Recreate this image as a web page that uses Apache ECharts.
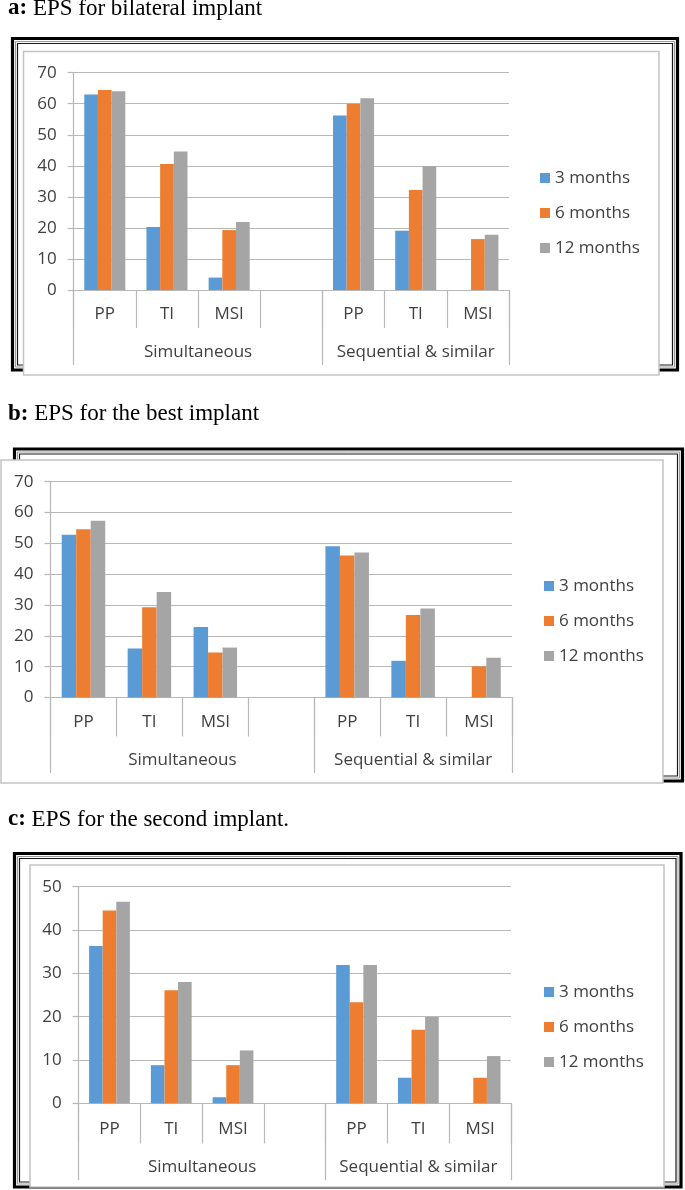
<!DOCTYPE html>
<html>
<head>
<meta charset="utf-8">
<script src="https://cdn.jsdelivr.net/npm/echarts@6/dist/echarts.min.js"></script>
<style>
  html, body { margin: 0; padding: 0; background: #fff; }
  #chart { width: 685px; height: 1190px; }
</style>
</head>
<body>
<div id="chart"></div>
<script>
// ---------- data ----------
const categories = ['PP', 'TI', 'MSI', '', 'PP', 'TI', 'MSI'];
const groups = ['Simultaneous', 'Sequential & similar'];
const groupSpans = [4, 3];
const seriesNames = ['3 months', '6 months', '12 months'];
const panelTitleBold = ['a:', 'b:', 'c:'];
const panelTitleText = ['EPS for bilateral implant', 'EPS for the best implant', 'EPS for the second implant.'];

// panel a: EPS for bilateral implant
const a3  = [63.0, 20.3, 4.0, null, 56.2, 19.1, 0];
const a6  = [64.4, 40.6, 19.3, null, 60.0, 32.2, 16.4];
const a12 = [64.0, 44.6, 21.9, null, 61.8, 39.9, 17.8];
// panel b: EPS for the best implant
const b3  = [52.8, 15.9, 22.9, null, 49.1, 11.9, 0];
const b6  = [54.6, 29.3, 14.6, null, 46.1, 26.8, 10.1];
const b12 = [57.3, 34.2, 16.2, null, 47.0, 28.9, 12.9];
// panel c: EPS for the second implant
const c3  = [36.3, 8.8, 1.4, null, 31.9, 5.9, 0];
const c6  = [44.5, 26.1, 8.8, null, 23.3, 17.0, 5.9];
const c12 = [46.5, 28.0, 12.2, null, 31.9, 19.9, 10.9];

const yMax = [70, 70, 50];
const yInterval = 10;

// ---------- styling / layout ----------
const colors = ['#5B9BD5', '#ED7D31', '#A5A5A5'];
const gridColor = '#b8b8b8';
const labelColor = '#404040';
const sansFont = 'Open Sans';
const serifFont = 'Liberation Serif';

const panelData = [[a3, a6, a12], [b3, b6, b12], [c3, c6, c12]];

const layouts = [
  { grid: { left: 73.7, top: 72.7, width: 435.3, height: 217.3 }, legend: { left: 540, top: 168 }, titleY: 8.5,
    frame: { x: 12.5, y: 38.5, w: 665, h: 331.5 }, box: { x: 23.5, y: 51.5, w: 635.5, h: 323.5 },
    catMargin: 16, catTick: 38, grpMargin: 54, grpTick: 75 },
  { grid: { left: 50.5, top: 481.7, width: 461.5, height: 215.8 }, legend: { left: 544, top: 576 }, titleY: 414,
    frame: { x: 14.5, y: 449, w: 668, h: 332 }, box: { x: 1, y: 460, w: 662, h: 323 },
    catMargin: 16, catTick: 39, grpMargin: 54, grpTick: 75.5 },
  { grid: { left: 78.6, top: 886.7, width: 432.4, height: 216.6 }, legend: { left: 544, top: 982 }, titleY: 819.5,
    frame: { x: 14.5, y: 853.5, w: 666.5, h: 333.5 }, box: { x: 30, y: 865, w: 634, h: 322 },
    catMargin: 17, catTick: 40, grpMargin: 55, grpTick: 77 }
];

// group axis built from groups / spans (half-slot resolution, boundaryGap false)
const nHalf = categories.length * 2 + 1;
const groupAxisData = new Array(nHalf).fill('');
const groupTickIdx = [];
const groupLabelIdx = [];
{
  let start = 0;
  groups.forEach((g, i) => {
    groupTickIdx.push(start * 2);
    const c = start * 2 + groupSpans[i];
    groupAxisData[c] = g;
    groupLabelIdx.push(c);
    start += groupSpans[i];
  });
  groupTickIdx.push(start * 2);
}

const grids = [], xAxes = [], yAxes = [], series = [], legends = [], graphics = [];

layouts.forEach((L, k) => {
  grids.push(Object.assign({ containLabel: false }, L.grid));

  xAxes.push({
    type: 'category', gridIndex: k, position: 'bottom', data: categories,
    axisLine: { show: true, lineStyle: { color: gridColor, width: 1.2 } },
    axisTick: { show: true, interval: 0, length: L.catTick, lineStyle: { color: gridColor, width: 1.2 } },
    axisLabel: { interval: 0, margin: L.catMargin, fontSize: 17, fontFamily: sansFont, color: labelColor },
    splitLine: { show: false }
  });
  xAxes.push({
    type: 'category', gridIndex: k, position: 'bottom', data: groupAxisData, boundaryGap: false,
    axisLine: { show: false },
    axisTick: { show: true, length: L.grpTick, interval: (i) => groupTickIdx.includes(i),
                lineStyle: { color: gridColor, width: 1.2 } },
    axisLabel: { interval: (i) => groupLabelIdx.includes(i), margin: L.grpMargin, fontSize: 17,
                 fontFamily: sansFont, color: labelColor },
    splitLine: { show: false }
  });

  yAxes.push({
    type: 'value', gridIndex: k, min: 0, max: yMax[k], interval: yInterval,
    axisLine: { show: true, lineStyle: { color: gridColor, width: 1.2 } },
    axisTick: { show: true, length: 6, lineStyle: { color: gridColor, width: 1.2 } },
    axisLabel: { margin: 17, fontSize: 17, fontFamily: sansFont, color: labelColor },
    splitLine: { show: true, lineStyle: { color: gridColor, width: 1.2 } }
  });

  panelData[k].forEach((vals, s) => {
    series.push({
      type: 'bar', name: seriesNames[s], xAxisIndex: k * 2, yAxisIndex: k,
      data: vals, barGap: '0%', barCategoryGap: '34%',
      itemStyle: { color: colors[s] }
    });
  });

  legends.push({
    data: seriesNames, orient: 'vertical', left: L.legend.left, top: L.legend.top,
    padding: 0, itemWidth: 10, itemHeight: 10, itemGap: 15, icon: 'rect',
    textStyle: { fontSize: 17, fontFamily: sansFont, color: labelColor, lineHeight: 20 }
  });

  const F = L.frame, B = L.box;
  graphics.push(
    { type: 'rect', z: -20, silent: true, shape: { x: F.x, y: F.y, width: F.w, height: F.h },
      style: { fill: 'none', stroke: '#000', lineWidth: 3.2 } },
    { type: 'rect', z: -19, silent: true, shape: { x: F.x + 3, y: F.y + 3, width: F.w - 6, height: F.h - 6 },
      style: { fill: 'none', stroke: '#9a9a9a', lineWidth: 1 } },
    { type: 'rect', z: -18, silent: true, shape: { x: F.x + 5, y: F.y + 5, width: F.w - 10, height: F.h - 10 },
      style: { fill: 'none', stroke: '#1a1a1a', lineWidth: 1.2 } },
    { type: 'rect', z: -17, silent: true, shape: { x: B.x, y: B.y, width: B.w, height: B.h },
      style: { fill: '#fff', stroke: '#c4c4c4', lineWidth: 1.5 } },
    { type: 'text', z: 10, x: 8, y: L.titleY,
      style: { text: '{b|' + panelTitleBold[k] + '} ' + panelTitleText[k],
               fontSize: 23, fontFamily: serifFont, fill: '#000', verticalAlign: 'middle',
               rich: { b: { fontWeight: 'bold', fontSize: 23, fontFamily: serifFont, fill: '#000' } } } }
  );
});

const chart = echarts.init(document.getElementById('chart'), null, { renderer: 'canvas' });
chart.setOption({
  backgroundColor: '#fff',
  animation: false,
  grid: grids,
  xAxis: xAxes,
  yAxis: yAxes,
  legend: legends,
  series: series,
  graphic: { elements: graphics }
});
</script>
</body>
</html>
